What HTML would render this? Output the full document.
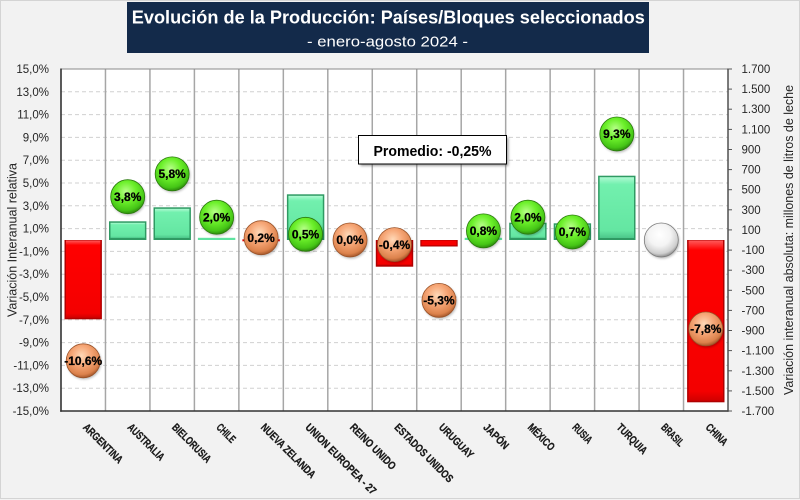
<!DOCTYPE html>
<html><head><meta charset="utf-8"><style>
html,body{margin:0;padding:0;background:#f2f2f2;}
svg{display:block;font-family:"Liberation Sans",Arial,sans-serif;}
</style></head><body>
<svg width="800" height="500" viewBox="0 0 800 500" xmlns="http://www.w3.org/2000/svg">
<defs>
<linearGradient id="gbar" x1="0" y1="0" x2="0" y2="1">
<stop offset="0" stop-color="#aefad2"/><stop offset="0.12" stop-color="#72f0ae"/><stop offset="0.88" stop-color="#64e6a2"/><stop offset="1" stop-color="#4cc78a"/>
</linearGradient>
<linearGradient id="rbar" x1="0" y1="0" x2="0" y2="1">
<stop offset="0" stop-color="#ff5a5a"/><stop offset="0.06" stop-color="#ff0000"/><stop offset="0.94" stop-color="#f40000"/><stop offset="1" stop-color="#d00000"/>
</linearGradient>
<radialGradient id="gb" cx="0.45" cy="0.35" r="0.65">
<stop offset="0" stop-color="#b8ff8a"/><stop offset="0.45" stop-color="#6cf02a"/><stop offset="0.85" stop-color="#45c516"/><stop offset="1" stop-color="#2e8c0e"/>
</radialGradient>
<radialGradient id="ob" cx="0.45" cy="0.35" r="0.65">
<stop offset="0" stop-color="#ffd9b8"/><stop offset="0.45" stop-color="#f6a676"/><stop offset="0.85" stop-color="#dc824c"/><stop offset="1" stop-color="#a8592c"/>
</radialGradient>
<radialGradient id="wb" cx="0.45" cy="0.35" r="0.65">
<stop offset="0" stop-color="#ffffff"/><stop offset="0.5" stop-color="#f4f4f4"/><stop offset="0.85" stop-color="#cfcfcf"/><stop offset="1" stop-color="#8f8f8f"/>
</radialGradient>
<filter id="sh" x="-20%" y="-20%" width="140%" height="140%"><feGaussianBlur stdDeviation="1.2"/></filter>
</defs>

<rect x="0.5" y="0.5" width="799" height="498" fill="#f2f2f2" stroke="#d4d4d4" stroke-width="1"/>

<!-- title -->
<rect x="127" y="2" width="522" height="51" fill="#132a4a"/>
<text x="388.3" y="23.3" fill="#fff" font-size="18" font-weight="bold" text-anchor="middle" textLength="513" lengthAdjust="spacingAndGlyphs">Evolución de la Producción: Países/Bloques seleccionados</text>
<text x="387.5" y="46.5" fill="#fff" font-size="15" text-anchor="middle" textLength="161" lengthAdjust="spacingAndGlyphs">- enero-agosto 2024 -</text>

<!-- plot area -->
<rect x="61" y="69" width="667" height="342" fill="#ffffff"/>
<g stroke="#d0d0d0" stroke-width="1" stroke-dasharray="4,3">
<line x1="61" y1="91.8" x2="728" y2="91.8"/><line x1="61" y1="114.6" x2="728" y2="114.6"/>
<line x1="61" y1="137.4" x2="728" y2="137.4"/><line x1="61" y1="160.2" x2="728" y2="160.2"/>
<line x1="61" y1="183" x2="728" y2="183"/><line x1="61" y1="205.8" x2="728" y2="205.8"/>
<line x1="61" y1="228.6" x2="728" y2="228.6"/><line x1="61" y1="251.4" x2="728" y2="251.4"/>
<line x1="61" y1="274.2" x2="728" y2="274.2"/><line x1="61" y1="297" x2="728" y2="297"/>
<line x1="61" y1="319.8" x2="728" y2="319.8"/><line x1="61" y1="342.6" x2="728" y2="342.6"/>
<line x1="61" y1="365.4" x2="728" y2="365.4"/><line x1="61" y1="388.2" x2="728" y2="388.2"/>
</g>
<g stroke="#a6a6a6" stroke-width="1.5">
<line x1="105.47" y1="69" x2="105.47" y2="411"/><line x1="149.93" y1="69" x2="149.93" y2="411"/>
<line x1="194.4" y1="69" x2="194.4" y2="411"/><line x1="238.87" y1="69" x2="238.87" y2="411"/>
<line x1="283.33" y1="69" x2="283.33" y2="411"/><line x1="327.8" y1="69" x2="327.8" y2="411"/>
<line x1="372.27" y1="69" x2="372.27" y2="411"/><line x1="416.73" y1="69" x2="416.73" y2="411"/>
<line x1="461.2" y1="69" x2="461.2" y2="411"/><line x1="505.67" y1="69" x2="505.67" y2="411"/>
<line x1="550.13" y1="69" x2="550.13" y2="411"/><line x1="594.6" y1="69" x2="594.6" y2="411"/>
<line x1="639.07" y1="69" x2="639.07" y2="411"/><line x1="683.53" y1="69" x2="683.53" y2="411"/>
</g>

<!-- bars -->
<g>
<rect x="64.5" y="240" width="37.4" height="79.3" fill="#b00000"/><rect x="66" y="240.5" width="34.4" height="77.3" fill="url(#rbar)"/>
<rect x="109" y="221.3" width="37.4" height="18.7" fill="#2f9a63"/><rect x="110.5" y="222.8" width="34.4" height="15.2" fill="url(#gbar)"/>
<rect x="153.5" y="207.3" width="37.4" height="32.7" fill="#2f9a63"/><rect x="155" y="208.8" width="34.4" height="29.2" fill="url(#gbar)"/>
<rect x="197.9" y="237.8" width="37.4" height="2.2" fill="#5fe3a0"/>
<rect x="242.4" y="239.3" width="37.4" height="2" fill="#e00000"/>
<rect x="286.9" y="194.3" width="37.4" height="45.7" fill="#2f9a63"/><rect x="288.4" y="195.8" width="34.4" height="42.2" fill="url(#gbar)"/>
<rect x="375.8" y="240" width="37.4" height="26.7" fill="#b00000"/><rect x="377.3" y="240.5" width="34.4" height="24.7" fill="url(#rbar)"/>
<rect x="420.3" y="240" width="37.4" height="6.5" fill="#b00000"/><rect x="421.5" y="240.5" width="35" height="4.8" fill="#f60000"/>
<rect x="464.7" y="237.8" width="37.4" height="2.2" fill="#5fe3a0"/>
<rect x="509.2" y="222.7" width="37.4" height="17.3" fill="#2f9a63"/><rect x="510.7" y="224.2" width="34.4" height="13.8" fill="url(#gbar)"/>
<rect x="553.7" y="223.3" width="37.4" height="16.7" fill="#2f9a63"/><rect x="555.2" y="224.8" width="34.4" height="13.2" fill="url(#gbar)"/>
<rect x="598.1" y="175.7" width="37.4" height="64.3" fill="#2f9a63"/><rect x="599.6" y="177.2" width="34.4" height="60.8" fill="url(#gbar)"/>
<rect x="687.1" y="240" width="37.4" height="162.3" fill="#b00000"/><rect x="688.6" y="240.5" width="34.4" height="160.3" fill="url(#rbar)"/>
</g>

<!-- bubbles -->
<g stroke-width="0.8">
<g fill="#000" opacity="0.28" filter="url(#sh)">
<circle cx="84.2" cy="362.3" r="17"/><circle cx="128.7" cy="198.2" r="17"/><circle cx="173.2" cy="175.4" r="17"/>
<circle cx="217.6" cy="218.7" r="17"/><circle cx="262.1" cy="239.2" r="17"/><circle cx="306.6" cy="235.8" r="17"/>
<circle cx="351" cy="241.5" r="17"/><circle cx="395.5" cy="246.1" r="17"/><circle cx="440" cy="301.9" r="17"/>
<circle cx="484.4" cy="232.4" r="17"/><circle cx="528.9" cy="218.7" r="17"/><circle cx="573.4" cy="233.5" r="17"/>
<circle cx="617.8" cy="135.5" r="17"/><circle cx="662.3" cy="241.5" r="17"/><circle cx="706.8" cy="330.4" r="17"/>
</g>
<circle cx="83.23" cy="360.8" r="17" fill="url(#ob)" stroke="#9a5228"/>
<circle cx="127.7" cy="196.7" r="17" fill="url(#gb)" stroke="#2a7a0c"/>
<circle cx="172.17" cy="173.9" r="17" fill="url(#gb)" stroke="#2a7a0c"/>
<circle cx="216.63" cy="217.2" r="17" fill="url(#gb)" stroke="#2a7a0c"/>
<circle cx="261.1" cy="237.7" r="17" fill="url(#ob)" stroke="#9a5228"/>
<circle cx="305.57" cy="234.3" r="17" fill="url(#gb)" stroke="#2a7a0c"/>
<circle cx="350.03" cy="240" r="17" fill="url(#ob)" stroke="#9a5228"/>
<circle cx="394.5" cy="244.6" r="17" fill="url(#ob)" stroke="#9a5228"/>
<circle cx="438.97" cy="300.4" r="17" fill="url(#ob)" stroke="#9a5228"/>
<circle cx="483.43" cy="230.9" r="17" fill="url(#gb)" stroke="#2a7a0c"/>
<circle cx="527.9" cy="217.2" r="17" fill="url(#gb)" stroke="#2a7a0c"/>
<circle cx="572.37" cy="232" r="17" fill="url(#gb)" stroke="#2a7a0c"/>
<circle cx="616.83" cy="134" r="17" fill="url(#gb)" stroke="#2a7a0c"/>
<circle cx="661.3" cy="240" r="17" fill="url(#wb)" stroke="#7a7a7a"/>
<circle cx="705.77" cy="328.9" r="17" fill="url(#ob)" stroke="#9a5228"/>
</g>
<g font-size="12" font-weight="bold" fill="#000" text-anchor="middle" stroke="#000" stroke-width="0.25">
<text x="83.23" y="365">-10,6%</text>
<text x="127.7" y="200.9">3,8%</text>
<text x="172.17" y="178.1">5,8%</text>
<text x="216.63" y="221.4">2,0%</text>
<text x="261.1" y="241.9">0,2%</text>
<text x="305.57" y="238.5">0,5%</text>
<text x="350.03" y="244.2">0,0%</text>
<text x="394.5" y="248.8">-0,4%</text>
<text x="438.97" y="304.6">-5,3%</text>
<text x="483.43" y="235.1">0,8%</text>
<text x="527.9" y="221.4">2,0%</text>
<text x="572.37" y="236.2">0,7%</text>
<text x="616.83" y="138.2">9,3%</text>
<text x="705.77" y="333.1">-7,8%</text>
</g>

<!-- plot border -->
<line x1="61" y1="69" x2="728" y2="69" stroke="#8a8a8a" stroke-width="1"/>
<line x1="61" y1="68.5" x2="61" y2="411.7" stroke="#333" stroke-width="1.6"/>
<line x1="60.2" y1="411" x2="728.7" y2="411" stroke="#333" stroke-width="1.6"/>
<line x1="728" y1="68.5" x2="728" y2="411.7" stroke="#444" stroke-width="1.4"/>
<g stroke="#555" stroke-width="1">
<line x1="728" y1="69" x2="732" y2="69"/><line x1="728" y1="89.1" x2="732" y2="89.1"/><line x1="728" y1="109.2" x2="732" y2="109.2"/>
<line x1="728" y1="129.4" x2="732" y2="129.4"/><line x1="728" y1="149.5" x2="732" y2="149.5"/><line x1="728" y1="169.6" x2="732" y2="169.6"/>
<line x1="728" y1="189.7" x2="732" y2="189.7"/><line x1="728" y1="209.8" x2="732" y2="209.8"/><line x1="728" y1="229.9" x2="732" y2="229.9"/>
<line x1="728" y1="250.1" x2="732" y2="250.1"/><line x1="728" y1="270.2" x2="732" y2="270.2"/><line x1="728" y1="290.3" x2="732" y2="290.3"/>
<line x1="728" y1="310.4" x2="732" y2="310.4"/><line x1="728" y1="330.5" x2="732" y2="330.5"/><line x1="728" y1="350.6" x2="732" y2="350.6"/>
<line x1="728" y1="370.8" x2="732" y2="370.8"/><line x1="728" y1="390.9" x2="732" y2="390.9"/><line x1="728" y1="411" x2="732" y2="411"/>
</g>

<!-- left tick labels -->
<g font-size="11.5" fill="#262626" text-anchor="end">
<text x="49" y="73">15,0%</text><text x="49" y="95.8">13,0%</text><text x="49" y="118.6">11,0%</text>
<text x="49" y="141.4">9,0%</text><text x="49" y="164.2">7,0%</text><text x="49" y="187">5,0%</text>
<text x="49" y="209.8">3,0%</text><text x="49" y="232.6">1,0%</text><text x="49" y="255.4">-1,0%</text>
<text x="49" y="278.2">-3,0%</text><text x="49" y="301">-5,0%</text><text x="49" y="323.8">-7,0%</text>
<text x="49" y="346.6">-9,0%</text><text x="49" y="369.4">-11,0%</text><text x="49" y="392.2">-13,0%</text>
<text x="49" y="415">-15,0%</text>
</g>
<!-- right tick labels -->
<g font-size="11.5" fill="#262626">
<text x="741.5" y="73">1.700</text><text x="741.5" y="93.1">1.500</text><text x="741.5" y="113.2">1.300</text>
<text x="741.5" y="133.4">1.100</text><text x="741.5" y="153.5">900</text><text x="741.5" y="173.6">700</text>
<text x="741.5" y="193.7">500</text><text x="741.5" y="213.8">300</text><text x="741.5" y="233.9">100</text>
<text x="741.5" y="254.1">-100</text><text x="741.5" y="274.2">-300</text><text x="741.5" y="294.3">-500</text>
<text x="741.5" y="314.4">-700</text><text x="741.5" y="334.5">-900</text><text x="741.5" y="354.6">-1.100</text>
<text x="741.5" y="374.8">-1.300</text><text x="741.5" y="394.9">-1.500</text><text x="741.5" y="415">-1.700</text>
</g>

<!-- axis titles -->
<text transform="translate(16.5,240) rotate(-90)" font-size="12.5" fill="#262626" text-anchor="middle" textLength="154" lengthAdjust="spacingAndGlyphs">Variación Interanual relativa</text>
<text transform="translate(793,240) rotate(-90)" font-size="12.5" fill="#262626" text-anchor="middle" textLength="310" lengthAdjust="spacingAndGlyphs">Variación interanual absoluta: millones de litros de leche</text>

<!-- category labels -->
<g font-size="11" font-weight="bold" fill="#1a1a1a" stroke="#1a1a1a" stroke-width="0.3">
<text transform="translate(82.4,428) rotate(45)" textLength="51" lengthAdjust="spacingAndGlyphs">ARGENTINA</text>
<text transform="translate(126.9,428) rotate(45)" textLength="47" lengthAdjust="spacingAndGlyphs">AUSTRALIA</text>
<text transform="translate(171.4,428) rotate(45)" textLength="50" lengthAdjust="spacingAndGlyphs">BIELORUSIA</text>
<text transform="translate(215.8,428) rotate(45)" textLength="22" lengthAdjust="spacingAndGlyphs">CHILE</text>
<text transform="translate(260.3,428) rotate(45)" textLength="72" lengthAdjust="spacingAndGlyphs">NUEVA ZELANDA</text>
<text transform="translate(304.8,428) rotate(45)" textLength="95" lengthAdjust="spacingAndGlyphs">UNION EUROPEA - 27</text>
<text transform="translate(349.2,428) rotate(45)" textLength="60" lengthAdjust="spacingAndGlyphs">REINO UNIDO</text>
<text transform="translate(393.7,428) rotate(45)" textLength="78" lengthAdjust="spacingAndGlyphs">ESTADOS UNIDOS</text>
<text transform="translate(438.2,428) rotate(45)" textLength="44" lengthAdjust="spacingAndGlyphs">URUGUAY</text>
<text transform="translate(482.6,428) rotate(45)" textLength="31" lengthAdjust="spacingAndGlyphs">JAPÓN</text>
<text transform="translate(527.1,428) rotate(45)" textLength="33" lengthAdjust="spacingAndGlyphs">MÉXICO</text>
<text transform="translate(571.6,428) rotate(45)" textLength="23" lengthAdjust="spacingAndGlyphs">RUSIA</text>
<text transform="translate(616,428) rotate(45)" textLength="38" lengthAdjust="spacingAndGlyphs">TURQUIA</text>
<text transform="translate(660.5,428) rotate(45)" textLength="27" lengthAdjust="spacingAndGlyphs">BRASIL</text>
<text transform="translate(705,428) rotate(45)" textLength="26" lengthAdjust="spacingAndGlyphs">CHINA</text>
</g>

<!-- Promedio box -->
<rect x="360.5" y="137.5" width="148" height="28.5" fill="#555" opacity="0.55" filter="url(#sh)"/>
<rect x="358.5" y="135.5" width="148" height="28.5" fill="#ffffff" stroke="#000" stroke-width="1"/>
<text x="432.5" y="156" font-size="15" font-weight="bold" fill="#000" text-anchor="middle" textLength="118" lengthAdjust="spacingAndGlyphs">Promedio: -0,25%</text>
</svg>
</body></html>
